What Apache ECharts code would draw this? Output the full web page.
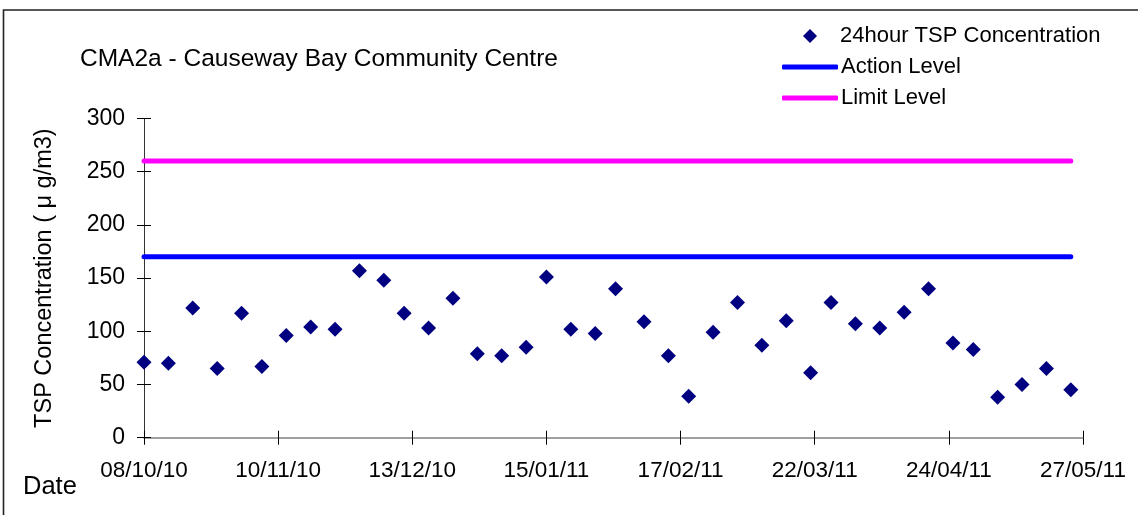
<!DOCTYPE html>
<html>
<head>
<meta charset="utf-8">
<script src="https://cdn.jsdelivr.net/npm/echarts@6/dist/echarts.min.js"></script>
<style>
html,body{margin:0;padding:0;background:#fff;}
#chart{width:1138px;height:515px;}
</style>
</head>
<body>
<div id="chart"></div>
<script>
// ---- Data ----
const startDate = '2010-10-08';
const sampleDates = ['2010-10-08','2010-10-14','2010-10-20','2010-10-26','2010-11-01','2010-11-06','2010-11-12','2010-11-18','2010-11-24','2010-11-30','2010-12-06','2010-12-11','2010-12-17','2010-12-23','2010-12-29','2011-01-04','2011-01-10','2011-01-15','2011-01-21','2011-01-27','2011-02-01','2011-02-08','2011-02-14','2011-02-19','2011-02-25','2011-03-03','2011-03-09','2011-03-15','2011-03-21','2011-03-26','2011-04-01','2011-04-07','2011-04-13','2011-04-19','2011-04-25','2011-04-30','2011-05-06','2011-05-12','2011-05-18','2011-05-24'];
const tspValues = [71,70,122,65,117,67,96,104,102,157,148,117,103,131,79,77,85,151,102,98,140,109,77,39,99,127,87,110,61,127,107,103,118,140,89,83,38,50,65,45];
const actionLevel = 170;
const limitLevel = 260;
const xTickLabels = ['08/10/10','10/11/10','13/12/10','15/01/11','17/02/11','22/03/11','24/04/11','27/05/11'];
const xTickStepDays = 33;
const yTicks = [0,50,100,150,200,250,300];

// ---- Helpers ----
const DAY = 86400000;
const t0 = Date.parse(startDate + 'T00:00:00Z');
const dayOf = d => Math.round((Date.parse(d + 'T00:00:00Z') - t0) / DAY);
const xDays = sampleDates.map(dayOf);
const scatterData = xDays.map((d, i) => [d, tspValues[i]]);
const firstDay = xDays[0], lastDay = xDays[xDays.length - 1];
const xMax = xTickStepDays * (xTickLabels.length - 1);

const FONT = 'Liberation Sans, Arial, sans-serif';
const chart = echarts.init(document.getElementById('chart'));

const xAxisBase = {
  type: 'value', min: 0, max: xMax, interval: xTickStepDays,
  splitLine: {show: false}, position: 'bottom'
};
const yAxisBase = {
  type: 'value', min: yTicks[0], max: yTicks[yTicks.length - 1], interval: yTicks[1] - yTicks[0],
  splitLine: {show: false}, position: 'left'
};

chart.setOption({
  animation: false,
  backgroundColor: '#fff',
  title: {
    text: 'CMA2a - Causeway Bay Community Centre',
    left: 80, top: 45, padding: 0,
    textStyle: {fontFamily: FONT, fontSize: 24.5, fontWeight: 'normal', color: '#000', lineHeight: 28}
  },
  legend: [
    {
      data: [{name: '24hour TSP Concentration', icon: 'diamond'}],
      left: 803, top: 25, padding: 0,
      itemWidth: 14, itemHeight: 14,
      textStyle: {fontFamily: FONT, fontSize: 22, color: '#000', lineHeight: 22, padding: [0, 0, 0, 18]}
    },
    {
      data: [{name: 'Action Level', icon: 'roundRect'}, {name: 'Limit Level', icon: 'roundRect'}],
      orient: 'vertical', left: 782, top: 56, padding: 0,
      itemWidth: 56, itemHeight: 5, itemGap: 9,
      textStyle: {fontFamily: FONT, fontSize: 22, color: '#000', lineHeight: 22, padding: [0, 0, 0, -2]}
    }
  ],
  grid: {left: 144, right: 55, top: 118.5, bottom: 77.3, containLabel: false},
  xAxis: [
    Object.assign({}, xAxisBase, {
      axisLine: {show: true, lineStyle: {color: '#808080', width: 1.5}},
      axisTick: {show: true, inside: false, length: 7, lineStyle: {color: '#000', width: 1}},
      axisLabel: {
        show: true, margin: 22, color: '#000', fontFamily: FONT, fontSize: 22.5,
        formatter: v => xTickLabels[Math.round(v / xTickStepDays)] || ''
      }
    }),
    Object.assign({}, xAxisBase, {
      axisLine: {show: false},
      axisTick: {show: true, inside: true, length: 7, lineStyle: {color: '#000', width: 1}},
      axisLabel: {show: false}
    })
  ],
  yAxis: [
    Object.assign({}, yAxisBase, {
      name: 'TSP Concentration ( μ g/m3)',
      nameLocation: 'middle', nameGap: 87,
      nameTextStyle: {fontFamily: FONT, fontSize: 23.5, color: '#000'},
      axisLine: {show: true, lineStyle: {color: '#333', width: 1}},
      axisTick: {show: true, inside: false, length: 7, lineStyle: {color: '#000', width: 1}},
      axisLabel: {show: true, margin: 19, color: '#000', fontFamily: FONT, fontSize: 23}
    }),
    Object.assign({}, yAxisBase, {
      axisLine: {show: false},
      axisTick: {show: true, inside: true, length: 7, lineStyle: {color: '#000', width: 1}},
      axisLabel: {show: false}
    })
  ],
  graphic: [
    {
      type: 'polyline', silent: true, z: 100,
      shape: {points: [[3.5, 515], [3.5, 10], [1138, 10]]},
      style: {stroke: '#222', lineWidth: 1.6, fill: null}
    },
    {
      type: 'text', left: 23, top: 474, silent: true,
      style: {text: 'Date', fontFamily: FONT, fontSize: 25.5, fill: '#000'}
    }
  ],
  series: [
    {
      name: 'Action Level', type: 'line', xAxisIndex: 0, yAxisIndex: 0,
      data: [[firstDay, actionLevel], [lastDay, actionLevel]],
      symbol: 'none', showSymbol: false, color: '#0000FF',
      lineStyle: {color: '#0000FF', width: 5, cap: 'round'}, z: 2
    },
    {
      name: 'Limit Level', type: 'line', xAxisIndex: 0, yAxisIndex: 0,
      data: [[firstDay, limitLevel], [lastDay, limitLevel]],
      symbol: 'none', showSymbol: false, color: '#FF00FF',
      lineStyle: {color: '#FF00FF', width: 5, cap: 'round'}, z: 2
    },
    {
      name: '24hour TSP Concentration', type: 'scatter', xAxisIndex: 0, yAxisIndex: 0,
      data: scatterData, symbol: 'diamond', symbolSize: 15,
      itemStyle: {color: '#000080', opacity: 1}, z: 3
    }
  ]
});
</script>
</body>
</html>
